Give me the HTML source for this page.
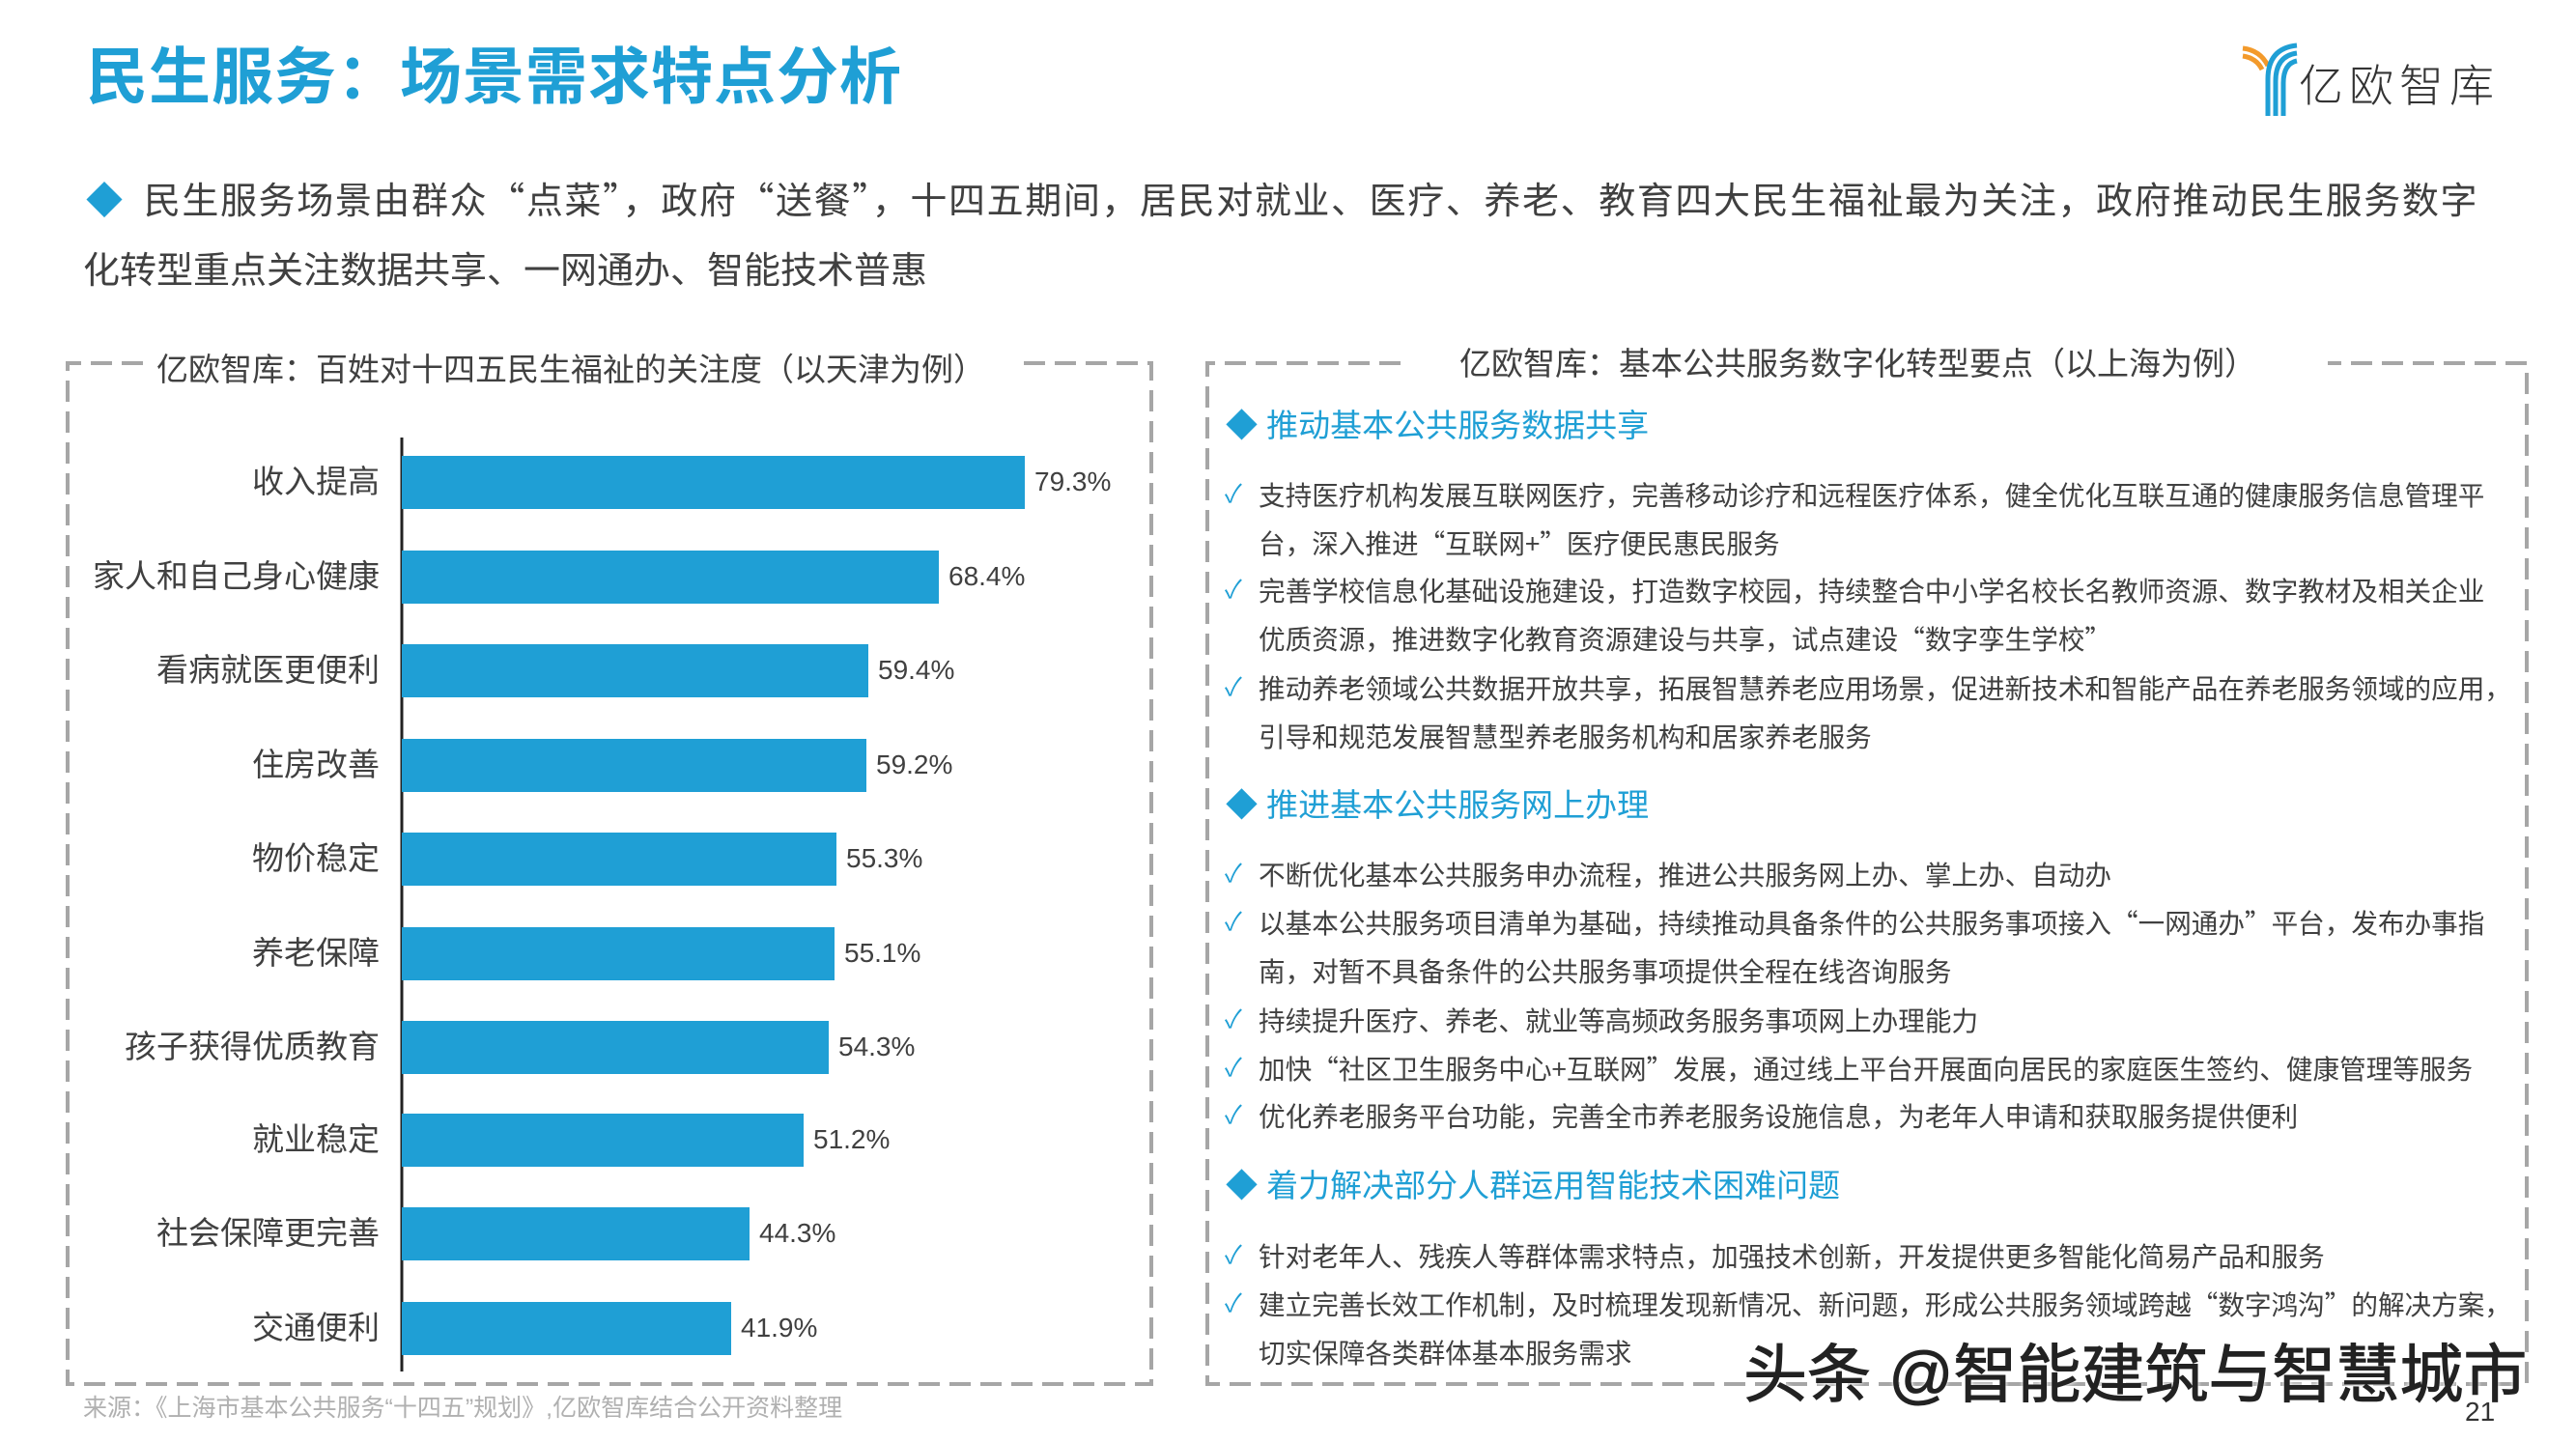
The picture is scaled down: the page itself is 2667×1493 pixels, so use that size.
<!DOCTYPE html>
<html><head><meta charset="utf-8"><style>
*{margin:0;padding:0;box-sizing:border-box}
body{width:2667px;height:1493px;background:#fff;position:relative;overflow:hidden;font-family:"Liberation Sans","Noto Sans CJK SC",sans-serif;color:#404040}
.a{position:absolute;white-space:nowrap}
.lab{position:absolute;right:2274px;font-size:33px;color:#404040;line-height:40px}
.bar{position:absolute;left:416px;height:55px;background:#1f9fd5}
.val{position:absolute;font-size:28px;color:#404040;line-height:34px}
.h{position:absolute;left:1269px;font-size:33px;color:#1f9fd5;line-height:40px;white-space:nowrap}
.i{position:absolute;left:1303px;font-size:27.6px;color:#404040;line-height:34px;white-space:nowrap;font-family:"Noto Sans CJK SC",sans-serif}
.c{position:absolute;left:1268px;font-size:26px;color:#1f9fd5;line-height:34px}
</style></head><body>
<div class="a" style="left:89px;top:42px;font-size:64px;font-weight:bold;color:#1f9fd5;line-height:76px;letter-spacing:1px">民生服务：场景需求特点分析</div>
<svg class="a" style="left:2318px;top:42px" width="64" height="80" viewBox="0 0 64 80">
<path d="M4 8 Q22 10 30 26" stroke="#f39a2b" stroke-width="5" fill="none"/>
<path d="M4 16 Q18 18 24 30" stroke="#f39a2b" stroke-width="5" fill="none"/>
<path d="M60 5 Q30 8 30 40 L30 78" stroke="#1f9fd5" stroke-width="5" fill="none"/>
<path d="M60 13 Q38 16 38 42 L38 78" stroke="#1f9fd5" stroke-width="5" fill="none"/>
<path d="M60 21 Q46 24 46 44 L46 78" stroke="#1f9fd5" stroke-width="5" fill="none"/>
</svg>
<div class="a" style="left:2380px;top:62px;font-size:46px;color:#333;line-height:54px;letter-spacing:6px;font-weight:300">亿欧智库</div>

<div class="a" style="left:89px;top:180px;font-size:38px;line-height:50px;color:#404040;font-family:'Noto Sans CJK SC',sans-serif;letter-spacing:1.6px"><span style="color:#1f9fd5">◆</span>&nbsp; 民生服务场景由群众“点菜”，政府“送餐”，十四五期间，居民对就业、医疗、养老、教育四大民生福祉最为关注，政府推动民生服务数字</div>
<div class="a" style="left:86px;top:252px;font-size:38px;line-height:50px;color:#404040;font-family:'Noto Sans CJK SC',sans-serif">化转型重点关注数据共享、一网通办、智能技术普惠</div>

<svg class="a" style="left:0;top:0" width="2667" height="1493">
<g stroke="#a6a6a6" stroke-width="4" fill="none" stroke-dasharray="22,10">
<path d="M148 376 L70 376 L70 1433 L1192 1433 L1192 376 L1050 376"/>
<path d="M1450 376 L1250 376 L1250 1433 L2616 1433 L2616 376 L2410 376"/>
</g>
<line x1="416" y1="453" x2="416" y2="1420" stroke="#222" stroke-width="3"/>
</svg>
<div class="a" style="left:162px;top:362px;font-size:33px;line-height:42px">亿欧智库：百姓对十四五民生福祉的关注度（以天津为例）</div>
<div class="a" style="left:1511px;top:356px;font-size:33px;line-height:42px">亿欧智库：基本公共服务数字化转型要点（以上海为例）</div>

<div class="lab" style="top:479px">收入提高</div><div class="bar" style="top:472px;width:645px"></div><div class="val" style="left:1071px;top:482px">79.3%</div>
<div class="lab" style="top:577px">家人和自己身心健康</div><div class="bar" style="top:570px;width:556px"></div><div class="val" style="left:982px;top:580px">68.4%</div>
<div class="lab" style="top:674px">看病就医更便利</div><div class="bar" style="top:667px;width:483px"></div><div class="val" style="left:909px;top:677px">59.4%</div>
<div class="lab" style="top:772px">住房改善</div><div class="bar" style="top:765px;width:481px"></div><div class="val" style="left:907px;top:775px">59.2%</div>
<div class="lab" style="top:869px">物价稳定</div><div class="bar" style="top:862px;width:450px"></div><div class="val" style="left:876px;top:872px">55.3%</div>
<div class="lab" style="top:967px">养老保障</div><div class="bar" style="top:960px;width:448px"></div><div class="val" style="left:874px;top:970px">55.1%</div>
<div class="lab" style="top:1064px">孩子获得优质教育</div><div class="bar" style="top:1057px;width:442px"></div><div class="val" style="left:868px;top:1067px">54.3%</div>
<div class="lab" style="top:1160px">就业稳定</div><div class="bar" style="top:1153px;width:416px"></div><div class="val" style="left:842px;top:1163px">51.2%</div>
<div class="lab" style="top:1257px">社会保障更完善</div><div class="bar" style="top:1250px;width:360px"></div><div class="val" style="left:786px;top:1260px">44.3%</div>
<div class="lab" style="top:1355px">交通便利</div><div class="bar" style="top:1348px;width:341px"></div><div class="val" style="left:767px;top:1358px">41.9%</div>

<div class="h" style="top:421px">◆ 推动基本公共服务数据共享</div>
<div class="c" style="top:494px">✓</div><div class="i" style="top:494px">支持医疗机构发展互联网医疗，完善移动诊疗和远程医疗体系，健全优化互联互通的健康服务信息管理平</div>
<div class="i" style="top:544px">台，深入推进“互联网+”医疗便民惠民服务</div>
<div class="c" style="top:593px">✓</div><div class="i" style="top:593px">完善学校信息化基础设施建设，打造数字校园，持续整合中小学名校长名教师资源、数字教材及相关企业</div>
<div class="i" style="top:643px">优质资源，推进数字化教育资源建设与共享，试点建设“数字孪生学校”</div>
<div class="c" style="top:694px">✓</div><div class="i" style="top:694px">推动养老领域公共数据开放共享，拓展智慧养老应用场景，促进新技术和智能产品在养老服务领域的应用，</div>
<div class="i" style="top:744px">引导和规范发展智慧型养老服务机构和居家养老服务</div>

<div class="h" style="top:814px">◆ 推进基本公共服务网上办理</div>
<div class="c" style="top:887px">✓</div><div class="i" style="top:887px">不断优化基本公共服务申办流程，推进公共服务网上办、掌上办、自动办</div>
<div class="c" style="top:937px">✓</div><div class="i" style="top:937px">以基本公共服务项目清单为基础，持续推动具备条件的公共服务事项接入“一网通办”平台，发布办事指</div>
<div class="i" style="top:987px">南，对暂不具备条件的公共服务事项提供全程在线咨询服务</div>
<div class="c" style="top:1038px">✓</div><div class="i" style="top:1038px">持续提升医疗、养老、就业等高频政务服务事项网上办理能力</div>
<div class="c" style="top:1088px">✓</div><div class="i" style="top:1088px">加快“社区卫生服务中心+互联网”发展，通过线上平台开展面向居民的家庭医生签约、健康管理等服务</div>
<div class="c" style="top:1137px">✓</div><div class="i" style="top:1137px">优化养老服务平台功能，完善全市养老服务设施信息，为老年人申请和获取服务提供便利</div>

<div class="h" style="top:1208px">◆ 着力解决部分人群运用智能技术困难问题</div>
<div class="c" style="top:1282px">✓</div><div class="i" style="top:1282px">针对老年人、残疾人等群体需求特点，加强技术创新，开发提供更多智能化简易产品和服务</div>
<div class="c" style="top:1332px">✓</div><div class="i" style="top:1332px">建立完善长效工作机制，及时梳理发现新情况、新问题，形成公共服务领域跨越“数字鸿沟”的解决方案，</div>
<div class="i" style="top:1382px">切实保障各类群体基本服务需求</div>

<div class="a" style="left:86px;top:1443px;font-size:25px;line-height:30px;color:#b0b0b0">来源：《上海市基本公共服务“十四五”规划》,亿欧智库结合公开资料整理</div>
<div class="a" style="left:2552px;top:1446px;font-size:28px;line-height:32px;color:#333">21</div>
<div class="a" style="left:1805px;top:1384px;font-size:66px;line-height:78px;color:#222;-webkit-text-stroke:1px #222;text-shadow:0 0 4px #fff,0 0 4px #fff">头条 @智能建筑与智慧城市</div>
</body></html>
